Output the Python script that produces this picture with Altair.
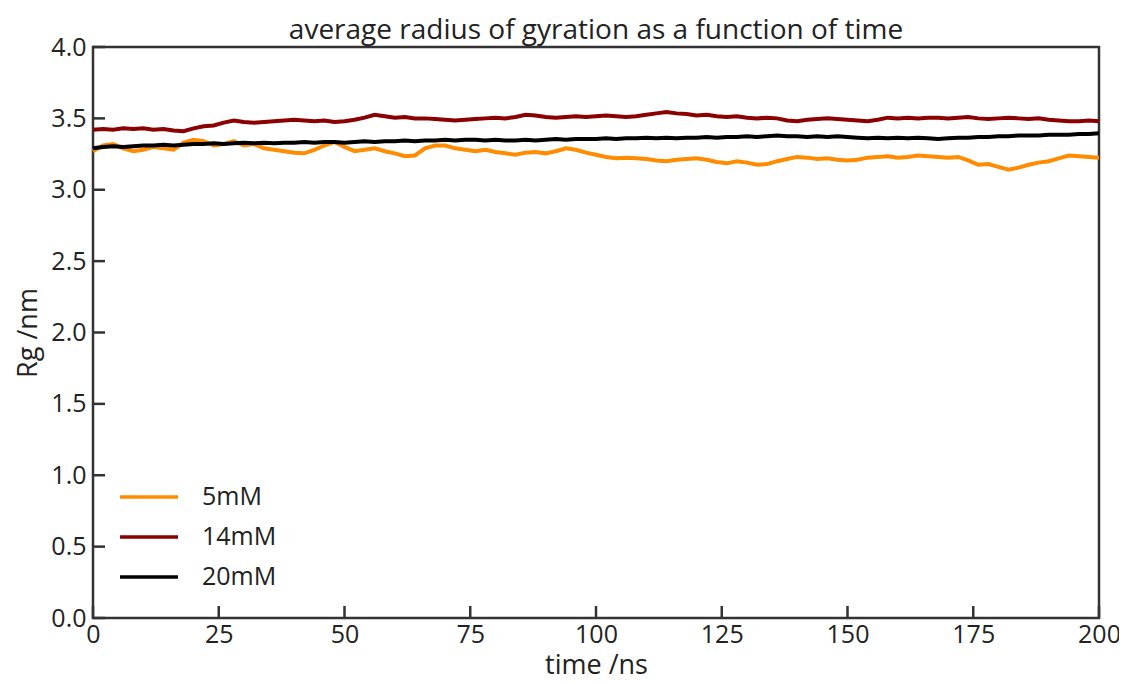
import altair as alt
import pandas as pd

time_ns = list(range(0, 201, 2))

rg_5mM = [3.27, 3.31, 3.32, 3.29, 3.27, 3.28, 3.30, 3.29, 3.28, 3.33,
          3.35, 3.34, 3.31, 3.32, 3.34, 3.31, 3.32, 3.29, 3.28, 3.27,
          3.26, 3.255, 3.28, 3.31, 3.335, 3.30, 3.27, 3.28, 3.29, 3.27,
          3.255, 3.235, 3.24, 3.29, 3.31, 3.31, 3.29, 3.28, 3.27, 3.28,
          3.265, 3.255, 3.245, 3.26, 3.265, 3.255, 3.27, 3.29, 3.28, 3.26,
          3.245, 3.23, 3.22, 3.225, 3.22, 3.215, 3.205, 3.20, 3.21, 3.215,
          3.22, 3.21, 3.195, 3.185, 3.20, 3.19, 3.175, 3.18, 3.20, 3.215,
          3.23, 3.225, 3.215, 3.22, 3.21, 3.205, 3.21, 3.225, 3.23, 3.235,
          3.225, 3.23, 3.24, 3.235, 3.23, 3.225, 3.23, 3.205, 3.175, 3.18,
          3.16, 3.14, 3.155, 3.175, 3.19, 3.20, 3.22, 3.24, 3.235, 3.23,
          3.225]

rg_14mM = [3.42, 3.425, 3.42, 3.43, 3.425, 3.43, 3.42, 3.425, 3.415, 3.41,
           3.43, 3.445, 3.45, 3.47, 3.485, 3.475, 3.47, 3.475, 3.48, 3.485,
           3.49, 3.485, 3.48, 3.485, 3.475, 3.48, 3.49, 3.505, 3.525, 3.515,
           3.505, 3.51, 3.50, 3.50, 3.495, 3.49, 3.485, 3.49, 3.495, 3.50,
           3.505, 3.50, 3.51, 3.525, 3.52, 3.51, 3.505, 3.51, 3.515, 3.51,
           3.515, 3.52, 3.515, 3.51, 3.515, 3.525, 3.535, 3.545, 3.535, 3.53,
           3.52, 3.525, 3.515, 3.51, 3.515, 3.505, 3.50, 3.505, 3.50, 3.485,
           3.48, 3.49, 3.495, 3.50, 3.495, 3.49, 3.485, 3.48, 3.49, 3.505,
           3.50, 3.505, 3.50, 3.505, 3.505, 3.50, 3.505, 3.51, 3.50, 3.495,
           3.50, 3.505, 3.50, 3.495, 3.50, 3.49, 3.485, 3.48, 3.48, 3.485,
           3.48]

rg_20mM = [3.29, 3.30, 3.305, 3.30, 3.305, 3.31, 3.31, 3.315, 3.31, 3.315,
           3.32, 3.32, 3.325, 3.32, 3.325, 3.33, 3.325, 3.33, 3.325, 3.33,
           3.33, 3.335, 3.33, 3.335, 3.335, 3.33, 3.335, 3.34, 3.335, 3.34,
           3.34, 3.345, 3.34, 3.345, 3.345, 3.35, 3.345, 3.35, 3.35, 3.345,
           3.35, 3.345, 3.345, 3.35, 3.345, 3.35, 3.355, 3.35, 3.355, 3.355,
           3.355, 3.36, 3.355, 3.36, 3.36, 3.365, 3.36, 3.365, 3.36, 3.365,
           3.365, 3.37, 3.365, 3.37, 3.37, 3.375, 3.37, 3.375, 3.38, 3.375,
           3.375, 3.37, 3.375, 3.37, 3.375, 3.37, 3.365, 3.36, 3.365, 3.36,
           3.365, 3.36, 3.365, 3.36, 3.355, 3.36, 3.365, 3.365, 3.37, 3.37,
           3.375, 3.375, 3.38, 3.38, 3.38, 3.385, 3.385, 3.385, 3.39, 3.39,
           3.395]

series_names = ["5mM", "14mM", "20mM"]
series_colors = ["#ff8c00", "#8b0000", "#000000"]
x_ticks = [0, 25, 50, 75, 100, 125, 150, 175, 200]
y_ticks = [0.0, 0.5, 1.0, 1.5, 2.0, 2.5, 3.0, 3.5, 4.0]

W, H = 1006, 571
FONT = "Open Sans"
TXT = "#222222"

rows = []
for name, vals in zip(series_names, [rg_5mM, rg_14mM, rg_20mM]):
    for t, v in zip(time_ns, vals):
        rows.append({"time": t, "rg": v, "series": name})
df = pd.DataFrame(rows)

xscale = alt.Scale(domain=[0, 200], nice=False, zero=False)
yscale = alt.Scale(domain=[0, 4], nice=False, zero=False)
xaxis = alt.Axis(values=x_ticks, title="time /ns", tickSize=0, labelPadding=4,
                 labelFlush=False, titlePadding=5, domain=False, grid=False)
yaxis = alt.Axis(values=y_ticks, format=".1f", title="Rg /nm", tickSize=0,
                 labelPadding=7, labelFlush=False, titlePadding=8, domain=False, grid=False)

lines = alt.Chart(df).mark_line(strokeWidth=4).encode(
    x=alt.X("time:Q", scale=xscale, axis=xaxis),
    y=alt.Y("rg:Q", scale=yscale, axis=yaxis),
    color=alt.Color("series:N", sort=series_names,
                    scale=alt.Scale(domain=series_names, range=series_colors),
                    legend=alt.Legend(title=None, orient="none", legendX=25, legendY=430,
                                      symbolType="stroke", symbolSize=3364,
                                      symbolStrokeWidth=3.5, labelFontSize=25,
                                      labelFont=FONT, labelColor=TXT, labelOffset=22,
                                      clipHeight=40, rowPadding=0)),
)

xt = alt.Chart(pd.DataFrame({"time": x_ticks})).mark_rule(color="#333333", strokeWidth=2.5).encode(
    x=alt.X("time:Q", scale=xscale, axis=xaxis),
    y=alt.value(H), y2=alt.value(H - 12),
)
yt = alt.Chart(pd.DataFrame({"rg": y_ticks})).mark_rule(color="#333333", strokeWidth=2.5).encode(
    y=alt.Y("rg:Q", scale=yscale, axis=yaxis),
    x=alt.value(0), x2=alt.value(12),
)

chart = alt.layer(lines, xt, yt).properties(
    width=W, height=H,
    title=alt.TitleParams("average radius of gyration as a function of time",
                          fontSize=28, font=FONT, fontWeight="normal", color=TXT,
                          anchor="middle", offset=-10),
    autosize=alt.AutoSizeParams(type="none"),
    padding={"left": 85, "top": 39, "right": 20, "bottom": 58},
).configure_view(
    stroke="#333333", strokeWidth=2.5
).configure_axis(
    labelFont=FONT, labelFontSize=25, labelColor=TXT,
    titleFont=FONT, titleFontSize=27, titleColor=TXT, titleFontWeight="normal",
)

chart.save("out.html", embed_options={"renderer": "svg", "actions": False})
